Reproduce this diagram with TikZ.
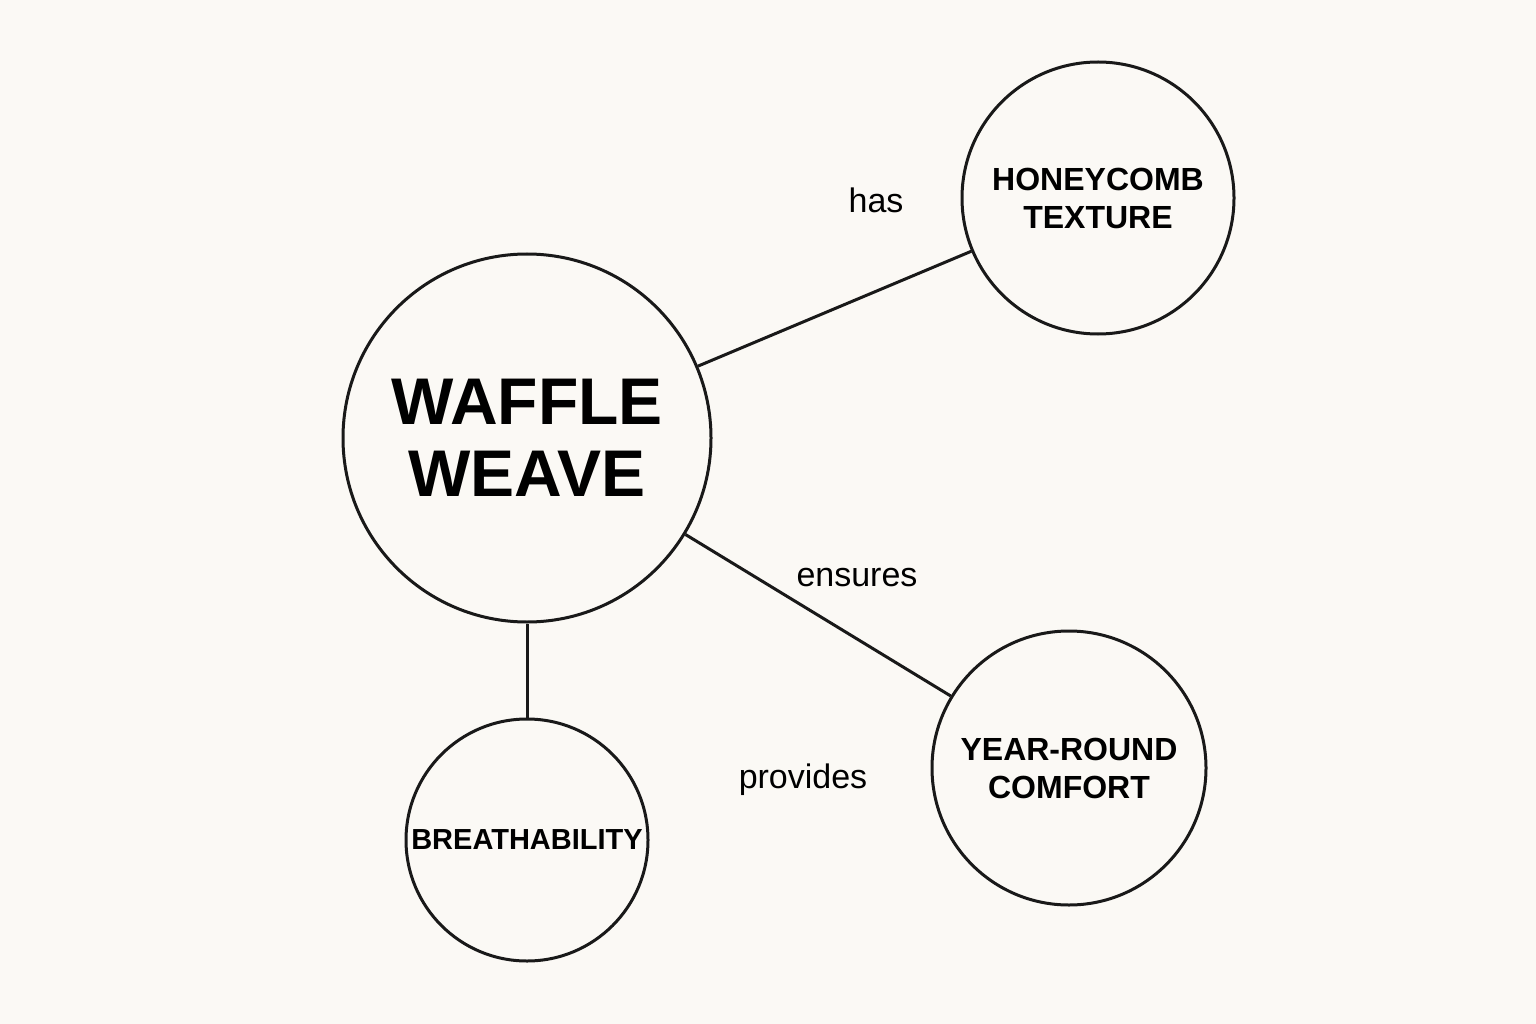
\documentclass[tikz,border=0pt]{standalone}
\usepackage{fontspec}
\setmainfont{Liberation Sans}
\begin{document}
\begin{tikzpicture}[x=1pt,y=-1pt,
  circ/.style={circle,draw=black!90,line width=3pt,inner sep=0pt,align=center,font=\bfseries\fontsize{32}{38}\selectfont},
  conn/.style={line width=3pt,draw=black!90},
  lbl/.style={font=\fontsize{34}{40}\selectfont}]
\fill[color={rgb,255:red,251;green,249;blue,245}] (0,0) rectangle (1536,1024);
\useasboundingbox (0,0) rectangle (1536,1024);
\node[circ,minimum size=368pt,font=\bfseries\fontsize{66}{72}\selectfont] (w) at (527,438) {WAFFLE\\WEAVE};
\node[circ,minimum size=272pt] (h) at (1098,198) {HONEYCOMB\\TEXTURE};
\node[circ,minimum size=274pt] (y) at (1069,768) {YEAR-ROUND\\COMFORT};
\node[circ,minimum size=242pt,font=\bfseries\fontsize{29}{34}\selectfont] (b) at (527,840) {BREATHABILITY};
\draw[conn] (w) -- (h);
\draw[conn] (w) -- (y);
\draw[conn] (w) -- (b);
\node[lbl] (l1) at (876,200) {has};
\node[lbl] (l2) at (857,578) {ensures};
\node[lbl] (l3) at (803,780) {provides};
\end{tikzpicture}
\end{document}
